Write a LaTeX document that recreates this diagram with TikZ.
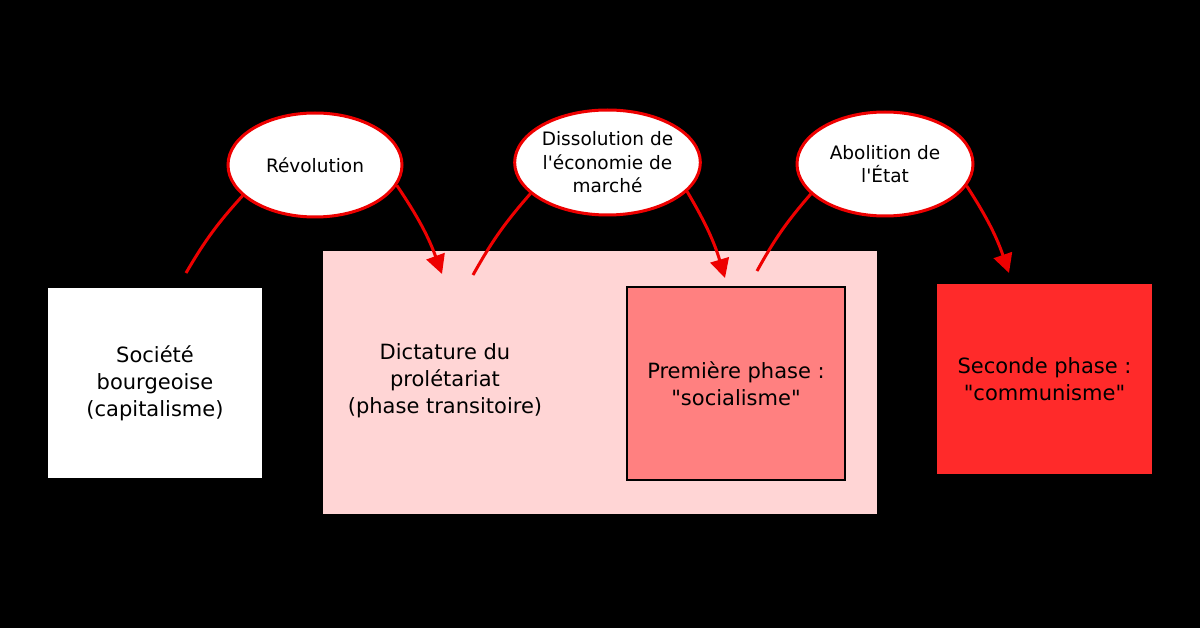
\documentclass[tikz,border=0pt]{standalone}
\usepackage{fontspec}
\setmainfont{DejaVu Sans}[Ligatures=TeXOff]
\usetikzlibrary{shapes.geometric,arrows.meta}

\definecolor{transfill}{HTML}{FFD5D5}
\definecolor{socfill}{HTML}{FF8080}
\definecolor{comfill}{HTML}{FF2A2A}
\definecolor{linkred}{HTML}{EE0000}

\begin{document}
\begin{tikzpicture}[x=1pt, y=-1pt,
  stage/.style={inner sep=0pt, align=center, font=\fontsize{21}{27}\selectfont},
  event/.style={ellipse, draw=linkred, line width=3pt, fill=white, minimum width=174pt,
    minimum height=104pt, inner sep=0pt, align=center, font=\fontsize{18.5}{23.5}\selectfont},
  link/.style={linkred, line width=3pt},
  arrow/.style={link, -{Triangle[length=19pt,width=19pt]}}
]

% Background
\fill[black] (0,0) rectangle (1200,628);

% Stages
\node[stage, fill=white, minimum width=214pt, minimum height=190pt] (bourg) at (155,383) {Société\\bourgeoise\\(capitalisme)};
\node[fill=transfill, minimum width=554pt, minimum height=263pt, inner sep=0pt] (trans) at (600,382.5) {};
\node[stage] (translbl) at (445,381) {Dictature du\\prolétariat\\(phase transitoire)};
\node[stage, fill=socfill, draw=black, line width=2pt, minimum width=218pt, minimum height=193pt] (soc) at (736,383.5) {Première phase :\\"socialisme"};
\node[stage, fill=comfill, minimum width=215pt, minimum height=190pt] (com) at (1044.5,379) {Seconde phase :\\"communisme"};

% Events
\node[event] (rev) at (315,165) {Révolution};
\node[event, minimum width=177pt, minimum height=105pt] (diss) at (607.5,162.5) {Dissolution de\\l'économie de\\marché};
\node[event, minimum width=176pt, minimum height=104pt] (abol) at (885,164) {Abolition de\\l'État};

% Free ends
\coordinate (revin) at (186,273);
\coordinate (revout) at (442,274);
\coordinate (dissin) at (473,275);
\coordinate (dissout) at (725,278);
\coordinate (abolin) at (757,271);
\coordinate (abolout) at (1009,273);

% Connectors
\draw[link] (rev.203) to[bend right=6] (revin);
\draw[arrow] (rev.346) to[bend left=7] (revout);
\draw[link] (diss.202) to[bend right=6] (dissin);
\draw[arrow] (diss.340) to[bend left=7] (dissout);
\draw[link] (abol.202) to[bend right=6] (abolin);
\draw[arrow] (abol.345) to[bend left=7] (abolout);

\end{tikzpicture}
\end{document}
